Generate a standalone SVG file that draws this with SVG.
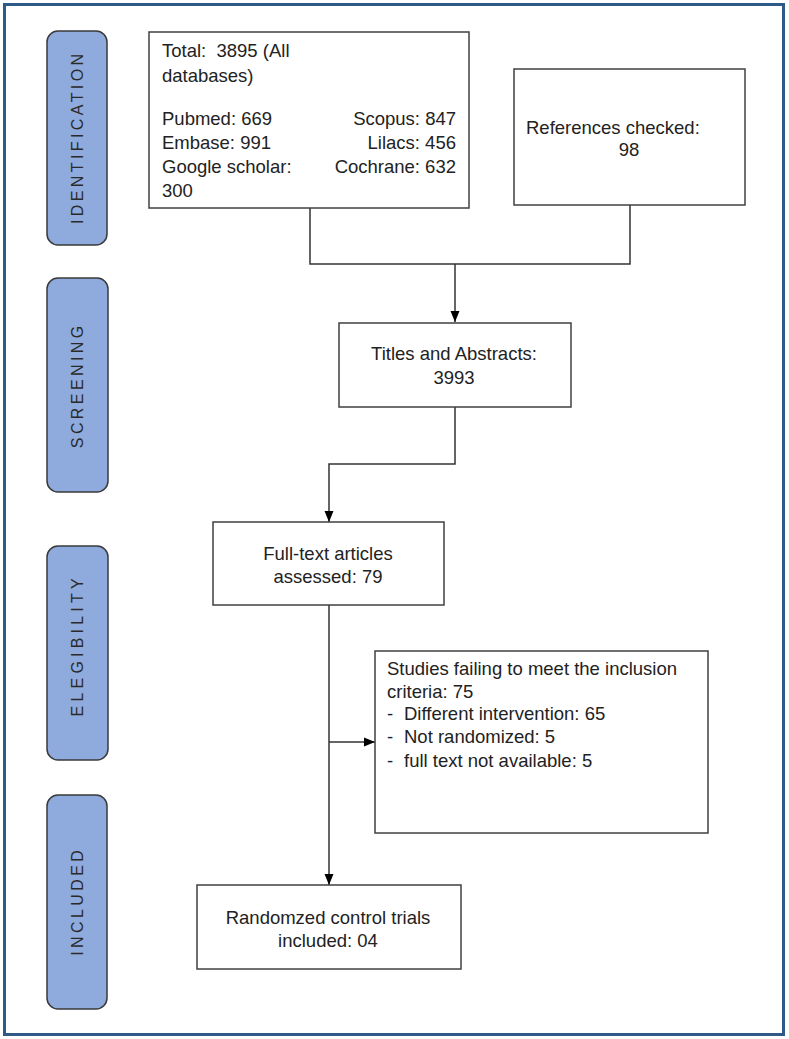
<svg xmlns="http://www.w3.org/2000/svg" width="789" height="1039" viewBox="0 0 789 1039">
<style>
.frame{fill:#ffffff;stroke:#2E5A88;stroke-width:3}
.side{fill:#8FAADC;stroke:#3A3A3A;stroke-width:1.5}
.box{fill:#ffffff;stroke:#404040;stroke-width:1.5}
.lbl{font-family:"Liberation Sans",Arial,sans-serif;font-size:16px;letter-spacing:3.4px;fill:#2A2A2A}
.t{font-family:"Liberation Sans",Arial,sans-serif;font-size:18.5px;fill:#222222}
.c{text-anchor:middle}
.e{text-anchor:end}
.conn{fill:none;stroke:#333333;stroke-width:1.5}
</style>
<defs>
<marker id="arr" markerUnits="userSpaceOnUse" markerWidth="12" markerHeight="12" viewBox="0 0 12 12" refX="11" refY="6" orient="auto">
<path d="M0,1.5 L11,6 L0,10.5 Z" fill="#000000"/>
</marker>
</defs>
<rect class="frame" x="4.5" y="4.5" width="779" height="1030"/>

<g id="phase-identification">
<rect class="side" x="47" y="31" width="60" height="214" rx="11"/>
<text class="lbl c" transform="translate(82.5,139) rotate(-90)" x="1.7">IDENTIFICATION</text>
</g>
<g id="phase-screening">
<rect class="side" x="47" y="278" width="61" height="214" rx="11"/>
<text class="lbl c" transform="translate(83,387) rotate(-90)" x="1.7">SCREENING</text>
</g>
<g id="phase-elegibility">
<rect class="side" x="47" y="546" width="61" height="214" rx="11"/>
<text class="lbl c" transform="translate(83,647) rotate(-90)" x="1.7" style="letter-spacing:4.2px">ELEGIBILITY</text>
</g>
<g id="phase-included">
<rect class="side" x="47" y="795" width="60" height="214" rx="11"/>
<text class="lbl c" transform="translate(82.5,903) rotate(-90)" x="1.7">INCLUDED</text>
</g>

<g id="connectors">
<path class="conn" d="M310,208 V264 H630 V205"/>
<path class="conn" d="M455,264 V322" marker-end="url(#arr)"/>
<path class="conn" d="M455,407 V464 H329 V522" marker-end="url(#arr)"/>
<path class="conn" d="M329,605 V885" marker-end="url(#arr)"/>
<path class="conn" d="M329,742 H375" marker-end="url(#arr)"/>
</g>

<g id="node-total">
<rect class="box" x="149" y="32" width="320" height="176"/>
<text class="t" x="162" y="57" xml:space="preserve">Total:  3895 (All</text>
<text class="t" x="162" y="82">databases)</text>
<text class="t" x="162" y="125">Pubmed: 669</text>
<text class="t" x="162" y="149">Embase: 991</text>
<text class="t" x="162" y="173">Google scholar:</text>
<text class="t" x="162" y="197">300</text>
<text class="t e" x="456" y="125">Scopus: 847</text>
<text class="t e" x="456" y="149">Lilacs: 456</text>
<text class="t e" x="456" y="173">Cochrane: 632</text>
</g>

<g id="node-references">
<rect class="box" x="514" y="69" width="231" height="136"/>
<text class="t" x="526" y="134">References checked:</text>
<text class="t c" x="629" y="156">98</text>
</g>

<g id="node-titles">
<rect class="box" x="339" y="323" width="232" height="84"/>
<text class="t c" x="454" y="360">Titles and Abstracts:</text>
<text class="t c" x="454" y="384">3993</text>
</g>

<g id="node-fulltext">
<rect class="box" x="213" y="522" width="231" height="83"/>
<text class="t c" x="328" y="560">Full-text articles</text>
<text class="t c" x="328" y="583">assessed: 79</text>
</g>

<g id="node-excluded">
<rect class="box" x="375" y="651" width="333" height="182"/>
<text class="t" x="387" y="675">Studies failing to meet the inclusion</text>
<text class="t" x="387" y="698">criteria: 75</text>
<text class="t" x="387" y="720">-</text>
<text class="t" x="404" y="720">Different intervention: 65</text>
<text class="t" x="387" y="743">-</text>
<text class="t" x="404" y="743">Not randomized: 5</text>
<text class="t" x="387" y="767">-</text>
<text class="t" x="404" y="767">full text not available: 5</text>
</g>

<g id="node-included">
<rect class="box" x="197" y="885" width="264" height="84"/>
<text class="t c" x="328" y="924">Randomzed control trials</text>
<text class="t c" x="328" y="947">included: 04</text>
</g>
</svg>
